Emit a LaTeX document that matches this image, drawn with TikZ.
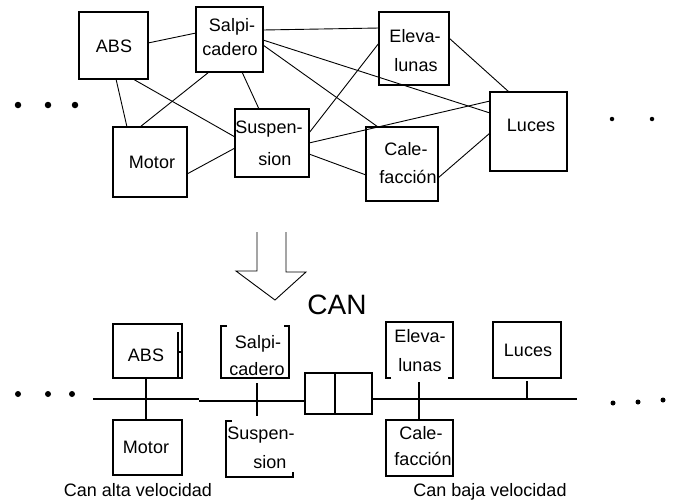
\documentclass[tikz,border=0pt]{standalone}
\usepackage{fontspec}
\setmainfont{Liberation Sans}
\usetikzlibrary{calc}
\begin{document}
\begin{tikzpicture}[x=1pt,y=-1pt,
  box/.style={draw, line width=1.4pt, inner sep=0pt, outer sep=0pt},
  frame/.style={inner sep=0pt, outer sep=0pt},
  edge/.style={line width=1.4pt},
  wire/.style={line width=0.9pt},
  bus/.style={line width=1.5pt},
  lbl/.style={font=\fontsize{18}{20}\selectfont, inner sep=0pt, anchor=base},
  dot/.style={circle, fill, inner sep=0pt},
]
\useasboundingbox (0,0) rectangle (690,501);

% ---------- point-to-point wiring ----------
\node[box, minimum width=69pt, minimum height=67pt] (absT) at (113.5,45.5) {};
\node[box, minimum width=67pt, minimum height=65pt] (salT) at (229.5,39.5) {};
\node[box, minimum width=74pt, minimum height=70pt] (motT) at (150,162) {};
\node[box, minimum width=74pt, minimum height=68pt] (susT) at (272,143) {};
\node[box, minimum width=70pt, minimum height=73pt] (eleT) at (414,48.5) {};
\node[box, minimum width=77pt, minimum height=79pt] (lucT) at (528.5,131.5) {};
\node[box, minimum width=72pt, minimum height=74pt] (calT) at (402,164) {};

\node[lbl] (absTt) at (114,52) {ABS};
\node[lbl] (salTt1) at (232,31) {Salpi-};
\node[lbl] (salTt2) at (230,55) {cadero};
\node[lbl] (motTt) at (152,168) {Motor};
\node[lbl] (susTt1) at (269,133) {Suspen-};
\node[lbl] (susTt2) at (275,165) {sion};
\node[lbl] (eleTt1) at (415,42) {Eleva-};
\node[lbl] (eleTt2) at (416,71) {lunas};
\node[lbl] (lucTt) at (531,131) {Luces};
\node[lbl] (calTt1) at (406,155) {Cale-};
\node[lbl] (calTt2) at (408,183) {facción};

\draw[wire] (absT.east |- 0,43) -- (salT.west |- 0,33);
\draw[wire] (absT.south -| 116,0) -- (motT.north -| 127,0);
\draw[wire] (absT.south -| 133,0) -- (susT.west |- 0,137);
\draw[wire] (salT.south -| 209,0) -- (motT.north -| 140,0);
\draw[wire] (salT.south -| 242,0) -- (susT.north -| 259,0);
\draw[wire] (salT.east |- 0,30) -- (eleT.west |- 0,28);
\draw[wire] (salT.east |- 0,40) -- (lucT.west |- 0,113);
\draw[wire] (salT.east |- 0,45) -- (calT.north -| 378,0);
\draw[wire] (susT.east |- 0,133) -- (eleT.west |- 0,43);
\draw[wire] (susT.east |- 0,143) -- (lucT.west |- 0,101);
\draw[wire] (susT.east |- 0,154) -- (calT.west |- 0,175);
\draw[wire] (motT.east |- 0,174) -- (susT.west |- 0,148);
\draw[wire] (eleT.east |- 0,38) -- (lucT.north -| 509,0);
\draw[wire] (calT.east |- 0,178) -- (lucT.west |- 0,133);

\node[dot, minimum size=6.5pt] (tl1) at (18,105) {};
\node[dot, minimum size=6.5pt] (tl2) at (48,105) {};
\node[dot, minimum size=6.5pt] (tl3) at (75,105) {};
\node[dot, minimum size=4.5pt] (tr1) at (612,119) {};
\node[dot, minimum size=4.5pt] (tr2) at (652,119) {};

% ---------- hollow arrow and title ----------
\draw[wire] (257,232) -- (257,271) -- (236,271) -- (275,300) -- (306,272) -- (286,272) -- (286,232);
\node[font=\fontsize{28}{30}\selectfont, inner sep=0pt, anchor=base] (can) at (337,314) {CAN};

% ---------- CAN bus ----------
\node[box, minimum width=69pt, minimum height=54pt] (absB) at (147.5,351) {};
\node[box, minimum width=69pt, minimum height=55pt] (motB) at (147.5,447.5) {};
\node[frame, minimum width=68pt, minimum height=52pt] (salB) at (255,352) {};
\node[frame, minimum width=67pt, minimum height=56pt] (susB) at (259.5,449) {};
\node[frame, minimum width=67pt, minimum height=56pt] (eleB) at (419.5,350) {};
\node[box, minimum width=67pt, minimum height=56pt] (calB) at (419.5,448) {};
\node[box, minimum width=68pt, minimum height=56pt] (lucB) at (527,350) {};
\node[box, minimum width=67pt, minimum height=41pt] (gw) at (338.5,393.5) {};

% open-sided frames
\draw[edge] ($(salB.north west)+(6,0)$) -- (salB.north west) -- (salB.south west)
  -- (salB.south east) -- (salB.north east) -- ($(salB.north east)+(-5,0)$);
\draw[edge] ($(susB.north west)+(6,0)$) -- (susB.north west) -- (susB.south west)
  -- (susB.south east) -- ($(susB.south east)+(0,-5)$);
\draw[edge] ($(eleB.south west)+(5,0)$) -- (eleB.south west) -- (eleB.north west)
  -- (eleB.north east) -- (eleB.south east) -- ($(eleB.south east)+(-5,0)$);
% doubled right edge of the ABS unit
\draw[line width=1.2pt] ($(absB.north east)+(-4,8)$) -- ($(absB.south east)+(-4,-1)$);
\draw[line width=1.2pt] ($(absB.east)+(-4,1)$) -- ($(absB.east)+(0,1)$);
% gateway divider
\draw[edge] (gw.north -| 335,0) -- (gw.south -| 335,0);

\node[lbl] (absBt) at (146,361) {ABS};
\node[lbl] (salBt1) at (258,348) {Salpi-};
\node[lbl] (salBt2) at (257,375) {cadero};
\node[lbl] (motBt) at (146,453) {Motor};
\node[lbl] (susBt1) at (261,439) {Suspen-};
\node[lbl] (susBt2) at (270,468) {sion};
\node[lbl] (eleBt1) at (420,342) {Eleva-};
\node[lbl] (eleBt2) at (420,371) {lunas};
\node[lbl] (lucBt) at (528,356) {Luces};
\node[lbl] (calBt1) at (421,439) {Cale-};
\node[lbl] (calBt2) at (423,465) {facción};

\coordinate (busL) at (93,399);
\coordinate (busStep) at (199,401);
\coordinate (busR) at (577,399);
\draw[bus] (busL) -- (busStep |- busL);
\draw[bus] (busStep) -- (gw.west |- busStep);
\draw[bus] (gw.east |- busR) -- (busR);

\draw[bus] (absB.south -| 146,0) -- (motB.north -| 146,0);
\draw[bus] ($(salB.south -| 257,0)+(0,5)$) -- ($(susB.north -| 257,0)+(0,-5)$);
\draw[bus] ($(eleB.south -| 419,0)+(0,4)$) -- (calB.north -| 419,0);
\draw[bus] ($(lucB.south)+(0,3)$) -- (lucB.south |- busR);

\node[dot, minimum size=6pt] (bl1) at (18,394) {};
\node[dot, minimum size=6pt] (bl2) at (48,394) {};
\node[dot, minimum size=6pt] (bl3) at (72,394) {};
\node[dot, minimum size=5pt] (br1) at (613,403) {};
\node[dot, minimum size=5pt] (br2) at (638,402) {};
\node[dot, minimum size=5pt] (br3) at (663,400) {};

\node[lbl] (hs) at (138,496) {Can alta velocidad};
\node[lbl] (ls) at (490,496) {Can baja velocidad};
\end{tikzpicture}
\end{document}
